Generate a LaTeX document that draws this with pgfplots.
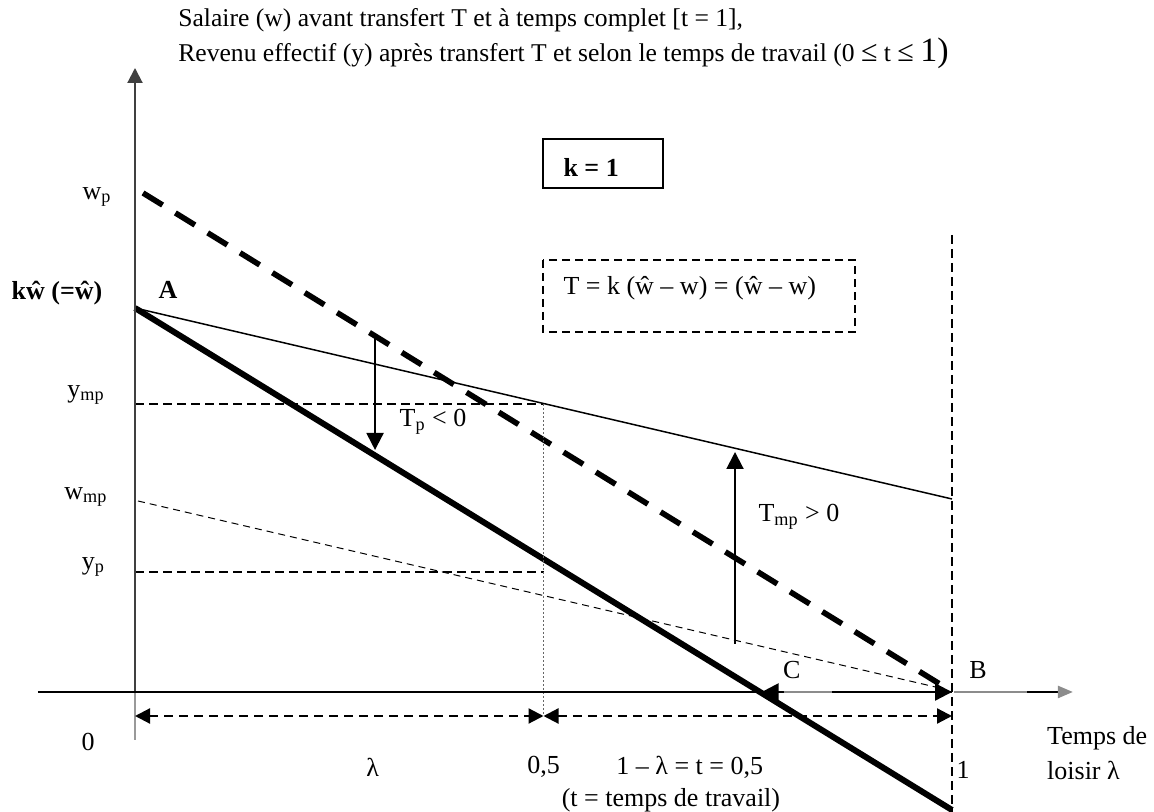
\documentclass[border=0pt]{standalone}
\usepackage{fontspec}
\setmainfont{Liberation Serif}
\usepackage{pgfplots}
\pgfplotsset{compat=1.18}
\usetikzlibrary{arrows.meta}

\tikzset{lbl/.style={inner sep=0pt}}
\newcommand{\bigle}{{\fontsize{15}{18}\selectfont ≤}}

\begin{document}
\begin{tikzpicture}[font=\fontsize{13}{15.6}\selectfont]
\begin{axis}[
  hide axis, scale only axis,
  width=577pt, height=406pt,
  xmin=-0.16524, xmax=1.24725, ymin=-1.20, ymax=6.92,
  clip=false,
]
% w_p : salaire, k = 1 (thick dashed)
\addplot[no marks, line width=2.8pt, dash pattern=on 11.5pt off 7.5pt] coordinates {(0.0098,4.99) (0.985,0.08)};
% revenu effectif y (thin solid)
\addplot[no marks, line width=0.75pt] coordinates {(0,3.84) (1,1.93)};
% salaire w (thick solid)
\addplot[no marks, line width=3pt] coordinates {(0,3.84) (1,-1.18)};
% w_mp (thin dashed)
\addplot[no marks, line width=0.5pt, dash pattern=on 3.5pt off 2.5pt] coordinates {(0.0037,1.91) (0.985,0.04)};
% y_mp and y_p guides
\addplot[no marks, line width=0.9pt, dash pattern=on 4.5pt off 2.5pt] coordinates {(0,2.88) (0.5,2.88)};
\addplot[no marks, line width=0.9pt, dash pattern=on 4.5pt off 2.5pt] coordinates {(0,1.20) (0.5,1.20)};
% t = 0.5 dotted
\addplot[no marks, line width=0.4pt, black!60, dash pattern=on 1pt off 1pt] coordinates {(0.5,2.88) (0.5,-0.24)};
% t = 1 dashed
\addplot[no marks, line width=0.9pt, dash pattern=on 4.5pt off 2.5pt] coordinates {(1,4.57) (1,-1.20)};

% axes
\draw[line width=1pt, black!75, -{Triangle[length=7.5pt,width=7.5pt]}] (axis cs:0,0) -- (axis cs:0,6.24);
\draw[line width=1pt, black!40] (axis cs:0,0) -- (axis cs:0,-0.48);
\draw[line width=1.2pt] (axis cs:-0.119,0) -- (axis cs:1,0);
\draw[line width=1.2pt, {Triangle[length=8.5pt,width=8.5pt]}-{Triangle[length=8.5pt,width=8.5pt]}] (axis cs:0.767,0) -- (axis cs:1,0);
\draw[line width=1.2pt, black!45] (axis cs:0.794,0) -- (axis cs:0.853,0);
\draw[line width=1.2pt, black!45] (axis cs:1.003,0) -- (axis cs:1.092,0);
\draw[line width=1.2pt, -{Triangle[length=7.5pt,width=6pt,color=black!45]}] (axis cs:1.092,0) -- (axis cs:1.148,0);

% lambda / t arrows
\draw[line width=1.1pt, dash pattern=on 4.5pt off 3pt, {Triangle[length=7.5pt,width=7.5pt]}-{Triangle[length=7.5pt,width=7.5pt]}] (axis cs:0,-0.24) -- (axis cs:0.5,-0.24);
\draw[line width=1.1pt, dash pattern=on 4.5pt off 3pt, {Triangle[length=7.5pt,width=7.5pt]}-{Triangle[length=7.5pt,width=7.5pt]}] (axis cs:0.5,-0.24) -- (axis cs:1,-0.24);

% transfers
\draw[line width=1pt, -{Triangle[length=8.5pt,width=8.5pt]}] (axis cs:0.2938,3.55) -- (axis cs:0.2938,2.42);
\draw[line width=1pt, -{Triangle[length=8.5pt,width=8.5pt]}] (axis cs:0.7344,0.48) -- (axis cs:0.7344,2.40);

% boxes
\draw[line width=1pt] (axis cs:0.4994,5.53) rectangle (axis cs:0.6463,5.04);
\node[lbl, anchor=west] at (axis cs:0.524,5.25) {\textbf{k = 1}};
\draw[line width=0.8pt, dash pattern=on 4pt off 2.5pt] (axis cs:0.4994,4.32) rectangle (axis cs:0.8813,3.60);
\node[lbl, anchor=west] at (axis cs:0.524,4.04) {T = k (ŵ – w) = (ŵ – w)};

% titles
\node[lbl, anchor=base west] at (axis cs:0.0526,6.65) {\fontsize{12.8}{15}\selectfont Salaire (w) avant transfert T et à temps complet [t = 1],};
\node[lbl, anchor=base west] at (axis cs:0.0526,6.30) {\fontsize{12.8}{15}\selectfont Revenu effectif (y) après transfert T et selon le temps de travail (0 \bigle\ t \bigle\ {\fontsize{17}{19}\selectfont 1)}};

% labels
\node[lbl] at (axis cs:-0.0465,4.95) {w\textsubscript{p}};
\node[lbl] at (axis cs:-0.0955,3.99) {\textbf{kŵ (=ŵ)}};
\node[lbl] at (axis cs:0.0404,4.02) {\textbf{A}};
\node[lbl] at (axis cs:-0.06,2.97) {y\textsubscript{mp}};
\node[lbl] at (axis cs:-0.06,1.95) {w\textsubscript{mp}};
\node[lbl] at (axis cs:-0.051,1.25) {y\textsubscript{p}};
\node[lbl] at (axis cs:-0.0575,-0.50) {0};
\node[lbl] at (axis cs:0.291,-0.75) {λ};
\node[lbl] at (axis cs:0.5,-0.75) {0,5};
\node[lbl] at (axis cs:0.679,-0.75) {1 – λ = t = 0,5};
\node[lbl] at (axis cs:0.656,-1.08) {(t = temps de travail)};
\node[lbl] at (axis cs:1.0135,-0.78) {1};
\node[lbl, anchor=west] at (axis cs:1.116,-0.46) {Temps de};
\node[lbl, anchor=west] at (axis cs:1.116,-0.78) {loisir λ};
\node[lbl] at (axis cs:0.804,0.22) {C};
\node[lbl] at (axis cs:1.032,0.22) {B};
\node[lbl] at (axis cs:0.3648,2.70) {T\textsubscript{p} < 0};
\node[lbl] at (axis cs:0.8127,1.75) {T\textsubscript{mp} > 0};
\end{axis}
\pgfresetboundingbox
\path (0,0) rectangle (577pt,406pt);
\end{tikzpicture}
\end{document}
